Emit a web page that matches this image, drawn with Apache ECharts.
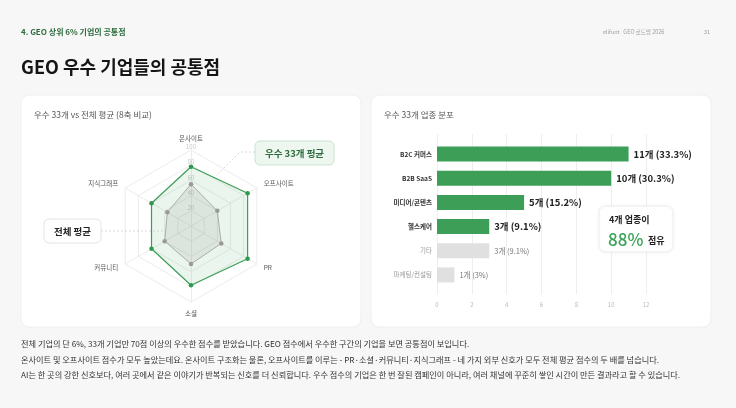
<!DOCTYPE html>
<html>
<head>
<meta charset="utf-8">
<script src="https://cdn.jsdelivr.net/npm/echarts@6/dist/echarts.min.js"></script>
<style>
  html, body { margin: 0; padding: 0; background: #f7f7f7; }
  #main { width: 736px; height: 408px; }
</style>
</head>
<body>
<div id="main"></div>
<script>
// 레이더: 지표 (ECharts는 반시계 방향으로 배치)
var radarAxes = ['온사이트', '지식그래프', '커뮤니티', '소셜', 'PR', '오프사이트'];
var topScores = [78, 60, 60, 78, 86, 86];
var avgScores = [55, 36, 40, 50, 46, 40];

// 업종 분포
var industries = ['B2C 커머스', 'B2B SaaS', '미디어/콘텐츠', '헬스케어', '기타', '마케팅/컨설팅'];
var counts = [11, 10, 5, 3, 3, 1];
var shares = ['33.3%', '30.3%', '15.2%', '9.1%', '9.1%', '3%'];
var mainCount = 4; // 상위 업종 (초록색)

var bodyLines = [
    '전체 기업의 단 6%, 33개 기업만 70점 이상의 우수한 점수를 받았습니다. GEO 점수에서 우수한 구간의 기업을 보면 공통점이 보입니다.',
    '온사이트 및 오프사이트 점수가 모두 높았는데요. 온사이트 구조화는 물론, 오프사이트를 이루는 - PR·소셜·커뮤니티·지식그래프 - 네 가지 외부 신호가 모두 전체 평균 점수의 두 배를 넘습니다.',
    'AI는 한 곳의 강한 신호보다, 여러 곳에서 같은 이야기가 반복되는 신호를 더 신뢰합니다. 우수 점수의 기업은 한 번 잘된 캠페인이 아니라, 여러 채널에 꾸준히 쌓인 시간이 만든 결과라고 할 수 있습니다.'
];

var FONT = '"Noto Sans CJK KR", "Noto Sans", sans-serif';
var GREEN = '#3d9e58';

var indicator = radarAxes.map(function (name, i) {
    var ind = { name: name, max: 100 };
    if (i === 0) {
        ind.axisLabel = {
            show: true, color: '#c8c8c8', fontSize: 6, margin: 0,
            align: 'center', verticalAlign: 'bottom', showMinLabel: false
        };
    }
    return ind;
});

var barData = counts.map(function (c, i) {
    var main = i < mainCount;
    return {
        value: c,
        itemStyle: { color: main ? GREEN : '#e0e0e0' },
        label: main
            ? { fontSize: 9.5, fontWeight: 'bold', color: '#222' }
            : { fontSize: 7.5, color: '#777' }
    };
});

var graphics = [
    { type: 'rect', z: -10, shape: { x: 21, y: 95, width: 340, height: 232, r: 8 }, style: { fill: '#fff', stroke: '#efefef' } },
    { type: 'rect', z: -10, shape: { x: 371, y: 95, width: 340, height: 232, r: 8 }, style: { fill: '#fff', stroke: '#efefef' } },

    { type: 'text', x: 21, y: 32, style: { text: '4. GEO 상위 6% 기업의 공통점', font: 'bold 8px ' + FONT, fill: '#2e6b3e', verticalAlign: 'middle' } },
    { type: 'text', x: 603, y: 32, style: { text: 'elifunt   GEO 로드맵 2026', font: '5.5px ' + FONT, fill: '#a0a0a0', verticalAlign: 'middle' } },
    { type: 'text', x: 704, y: 32, style: { text: '31', font: '5.5px ' + FONT, fill: '#a0a0a0', verticalAlign: 'middle' } },
    { type: 'text', x: 21, y: 67, style: { text: 'GEO 우수 기업들의 공통점', font: 'bold 18px ' + FONT, fill: '#151515', verticalAlign: 'middle' } },

    { type: 'text', x: 34, y: 115, style: { text: '우수 33개 vs 전체 평균 (8축 비교)', font: '8.5px ' + FONT, fill: '#555', verticalAlign: 'middle' } },
    { type: 'text', x: 384, y: 115, style: { text: '우수 33개 업종 분포', font: '8.5px ' + FONT, fill: '#555', verticalAlign: 'middle' } },

    // 레이더 콜아웃
    { type: 'polyline', z: 100, shape: { points: [[255, 152], [240, 152], [216, 176]] }, style: { stroke: '#cfcfcf', lineWidth: 0.8, lineDash: [2, 2], fill: null } },
    { type: 'rect', z: 100, shape: { x: 255, y: 141, width: 79, height: 24, r: 5 }, style: { fill: '#eef6f0', stroke: '#c9e3d0' } },
    { type: 'text', z: 101, x: 294.5, y: 153, style: { text: '우수 33개 평균', font: 'bold 9.5px ' + FONT, fill: '#2d6b3d', align: 'center', verticalAlign: 'middle' } },
    { type: 'line', z: 100, shape: { x1: 101, y1: 231, x2: 165, y2: 231 }, style: { stroke: '#cfcfcf', lineWidth: 0.8, lineDash: [2, 2] } },
    { type: 'rect', z: 100, shape: { x: 44, y: 219, width: 57, height: 24, r: 5 }, style: { fill: '#fff', stroke: '#e3e3e3' } },
    { type: 'text', z: 101, x: 72.5, y: 231, style: { text: '전체 평균', font: 'bold 9.5px ' + FONT, fill: '#222', align: 'center', verticalAlign: 'middle' } },

    // 업종 콜아웃
    { type: 'rect', z: 100, shape: { x: 599, y: 206, width: 74, height: 46, r: 6 }, style: { fill: '#fff', stroke: '#ececec', shadowBlur: 4, shadowColor: 'rgba(0,0,0,0.04)' } },
    { type: 'text', z: 101, x: 609, y: 220, style: { text: '4개 업종이', font: '600 9px ' + FONT, fill: '#222', verticalAlign: 'middle' } },
    { type: 'text', z: 101, x: 608, y: 240, style: { text: '88%', font: '500 17px ' + FONT, fill: '#3aa357', verticalAlign: 'middle' } },
    { type: 'text', z: 101, x: 648, y: 241, style: { text: '점유', font: 'bold 9px ' + FONT, fill: '#222', verticalAlign: 'middle' } }
];

bodyLines.forEach(function (t, i) {
    graphics.push({ type: 'text', x: 21, y: 344 + i * 15.5, style: { text: t, font: '8.2px ' + FONT, fill: '#333', verticalAlign: 'middle' } });
});

var myChart = echarts.init(document.getElementById('main'));

var option = {
    backgroundColor: '#f7f7f7',
    textStyle: { fontFamily: FONT },
    animation: false,
    graphic: graphics,
    radar: {
        center: [191, 226],
        radius: 76,
        shape: 'polygon',
        splitNumber: 5,
        nameGap: 8,
        indicator: indicator,
        axisName: { color: '#555', fontSize: 6.5 },
        axisLine: { lineStyle: { color: '#ececec' } },
        splitLine: { lineStyle: { color: '#ececec' } },
        splitArea: { show: false },
        axisLabel: { show: false }
    },
    grid: [
        { left: 437, top: 142, width: 209, height: 145 },
        { left: 437, top: 134, width: 209, height: 160 }
    ],
    xAxis: [
        { type: 'value', gridIndex: 0, min: 0, max: 12, interval: 2, show: false },
        {
            type: 'value', gridIndex: 1, min: 0, max: 12, interval: 2,
            axisLine: { show: false }, axisTick: { show: false },
            splitLine: { lineStyle: { color: '#eeeeee' } },
            axisLabel: { color: '#bbb', fontSize: 6, margin: 8 }
        }
    ],
    yAxis: [
        {
            type: 'category', gridIndex: 0, inverse: true, data: industries,
            axisLine: { show: false }, axisTick: { show: false },
            axisLabel: {
                margin: 5,
                formatter: function (v, i) { return i < mainCount ? '{a|' + v + '}' : '{b|' + v + '}'; },
                rich: {
                    a: { fontSize: 6.5, fontWeight: 'bold', color: '#333' },
                    b: { fontSize: 6.5, color: '#999' }
                }
            }
        },
        { type: 'value', gridIndex: 1, min: 0, max: 1, show: false }
    ],
    series: [
        {
            type: 'radar',
            data: [
                {
                    name: '우수 33개 평균',
                    value: topScores,
                    symbol: 'circle', symbolSize: 4.5,
                    lineStyle: { color: GREEN, width: 1.2 },
                    itemStyle: { color: '#2f9a4b' },
                    areaStyle: { color: 'rgba(61,158,88,0.15)' }
                },
                {
                    name: '전체 평균',
                    value: avgScores,
                    symbol: 'circle', symbolSize: 4.5,
                    lineStyle: { color: '#b0b0b0', width: 1 },
                    itemStyle: { color: '#999' },
                    areaStyle: { color: 'rgba(120,120,120,0.18)' }
                }
            ]
        },
        {
            type: 'bar',
            xAxisIndex: 0, yAxisIndex: 0,
            barWidth: 15,
            data: barData,
            label: {
                show: true, position: 'right', distance: 5,
                formatter: function (p) { return counts[p.dataIndex] + '개 (' + shares[p.dataIndex] + ')'; }
            }
        }
    ]
};

myChart.setOption(option);
</script>
</body>
</html>
